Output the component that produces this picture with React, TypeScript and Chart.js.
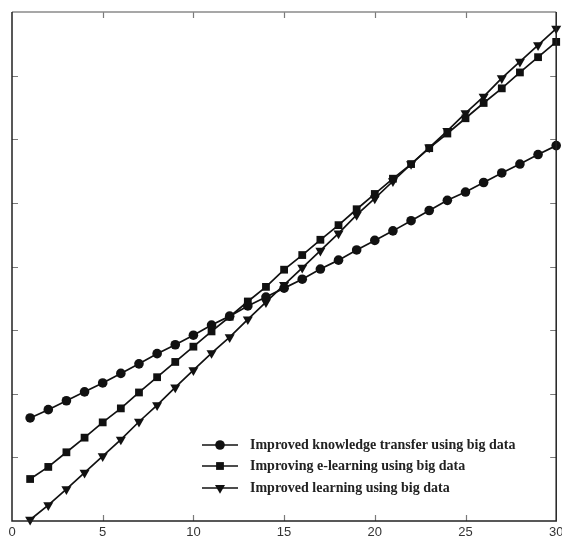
import React, { useEffect, useRef } from 'react';
import { Chart, registerables } from 'chart.js';

Chart.register(...registerables);

const xValues = [1, 2, 3, 4, 5, 6, 7, 8, 9, 10, 11, 12, 13, 14, 15, 16, 17, 18, 19, 20, 21, 22, 23, 24, 25, 26, 27, 28, 29, 30];
const knowledgeTransfer = [1.62, 1.75, 1.89, 2.03, 2.17, 2.32, 2.47, 2.63, 2.77, 2.92, 3.08, 3.22, 3.38, 3.52, 3.66, 3.80, 3.96, 4.10, 4.26, 4.41, 4.56, 4.72, 4.88, 5.04, 5.17, 5.32, 5.47, 5.61, 5.76, 5.90];
const eLearning = [0.66, 0.85, 1.08, 1.31, 1.55, 1.77, 2.02, 2.26, 2.50, 2.74, 2.98, 3.21, 3.45, 3.68, 3.95, 4.18, 4.42, 4.65, 4.90, 5.14, 5.38, 5.61, 5.86, 6.09, 6.33, 6.57, 6.80, 7.05, 7.29, 7.53];
const learning = [0.02, 0.25, 0.50, 0.76, 1.02, 1.28, 1.56, 1.82, 2.10, 2.37, 2.64, 2.89, 3.17, 3.44, 3.71, 3.98, 4.25, 4.52, 4.81, 5.07, 5.34, 5.61, 5.87, 6.13, 6.41, 6.67, 6.96, 7.22, 7.48, 7.74];
const seriesLabels = [
  'Improved knowledge transfer using big data',
  'Improving e-learning using big data',
  'Improved learning using big data',
];
const seriesStyles = ['circle', 'rect', 'triangle'];
const xTickStep = 5;
const xMin = 0;
const xMax = 30;
const yMin = 0;
const yMax = 8;
const yTickStep = 1;

function drawMarker(ctx: CanvasRenderingContext2D, style: string, x: number, y: number) {
  ctx.beginPath();
  if (style === 'circle') {
    ctx.arc(x, y, 4.8, 0, Math.PI * 2);
  } else if (style === 'rect') {
    ctx.rect(x - 3.9, y - 3.9, 7.8, 7.8);
  } else {
    const r = 5.8;
    ctx.moveTo(x, y + r);
    ctx.lineTo(x - r * 0.866, y - r * 0.5);
    ctx.lineTo(x + r * 0.866, y - r * 0.5);
    ctx.closePath();
  }
  ctx.fill();
}

const framePlugin = {
  id: 'frame',
  afterDraw(chart: any) {
    const { ctx, chartArea } = chart;
    const { left, right, top, bottom } = chartArea;
    const xs = chart.scales.x;
    const ys = chart.scales.y;
    ctx.save();
    ctx.strokeStyle = '#7a7a7a';
    ctx.lineWidth = 1.2;
    const tl = 6;
    for (let v = xMin + xTickStep; v < xMax; v += xTickStep) {
      const px = Math.round(xs.getPixelForValue(v)) + 0.5;
      ctx.beginPath();
      ctx.moveTo(px, bottom);
      ctx.lineTo(px, bottom - tl);
      ctx.moveTo(px, top);
      ctx.lineTo(px, top + tl);
      ctx.stroke();
    }
    for (let v = yMin + yTickStep; v < yMax; v += yTickStep) {
      const py = Math.round(ys.getPixelForValue(v)) + 0.5;
      ctx.beginPath();
      ctx.moveTo(left, py);
      ctx.lineTo(left + tl, py);
      ctx.moveTo(right, py);
      ctx.lineTo(right - tl, py);
      ctx.stroke();
    }
    ctx.lineWidth = 1.5;
    ctx.strokeStyle = '#8a8a8a';
    ctx.beginPath();
    ctx.moveTo(left, top);
    ctx.lineTo(right, top);
    ctx.stroke();
    ctx.strokeStyle = '#222';
    ctx.beginPath();
    ctx.moveTo(left, top);
    ctx.lineTo(left, bottom);
    ctx.lineTo(right, bottom);
    ctx.lineTo(right, top);
    ctx.stroke();

    const lx = left + 190;
    const rows = [bottom - 76, bottom - 55, bottom - 33];
    ctx.font = 'bold 14px "Liberation Serif", "Times New Roman", serif';
    ctx.textBaseline = 'middle';
    ctx.textAlign = 'left';
    chart.data.datasets.forEach((ds: any, i: number) => {
      const y = rows[i];
      ctx.strokeStyle = '#111';
      ctx.fillStyle = '#111';
      ctx.lineWidth = 1.7;
      ctx.beginPath();
      ctx.moveTo(lx, y);
      ctx.lineTo(lx + 36, y);
      ctx.stroke();
      drawMarker(ctx, seriesStyles[i], lx + 18, y);
      ctx.fillStyle = '#222';
      ctx.fillText(ds.label, lx + 48, y + 0.5);
    });
    ctx.restore();
  },
};

export default function App() {
  const ref = useRef<HTMLCanvasElement | null>(null);
  useEffect(() => {
    document.body.style.margin = '0';
    const series = [knowledgeTransfer, eLearning, learning];
    const chart = new Chart(ref.current as HTMLCanvasElement, {
      type: 'line',
      data: {
        datasets: series.map((vals, i) => ({
          label: seriesLabels[i],
          data: xValues.map((x, j) => ({ x, y: vals[j] })),
          borderColor: '#111',
          backgroundColor: '#111',
          borderWidth: 1.7,
          pointStyle: seriesStyles[i] as any,
          pointRotation: seriesStyles[i] === 'triangle' ? 180 : 0,
          pointRadius: seriesStyles[i] === 'circle' ? 4.8 : seriesStyles[i] === 'rect' ? 5.5 : 5.8,
          pointBorderWidth: 0,
          pointBackgroundColor: '#111',
          tension: 0,
          clip: false as any,
        })),
      },
      options: {
        animation: false,
        responsive: false,
        maintainAspectRatio: false,
        layout: { padding: { left: 12, right: 5, top: 12, bottom: 0 } },
        plugins: { legend: { display: false }, tooltip: { enabled: false }, title: { display: false } },
        scales: {
          x: {
            type: 'linear',
            min: xMin,
            max: xMax,
            ticks: {
              stepSize: xTickStep,
              padding: 4,
              color: '#333',
              font: { family: '"Liberation Sans", Arial, sans-serif', size: 13 },
            },
            grid: { display: false, drawTicks: false },
            border: { display: false },
            afterFit(scale: any) {
              scale.paddingLeft = 0;
              scale.paddingRight = 0;
              scale.height = 17;
            },
          },
          y: { display: false, min: yMin, max: yMax },
        },
      },
      plugins: [framePlugin],
    });
    return () => chart.destroy();
  }, []);
  return (
    <div style={{ width: 562, height: 538 }}>
      <canvas ref={ref} width={562} height={538} style={{ display: 'block' }} />
    </div>
  );
}
